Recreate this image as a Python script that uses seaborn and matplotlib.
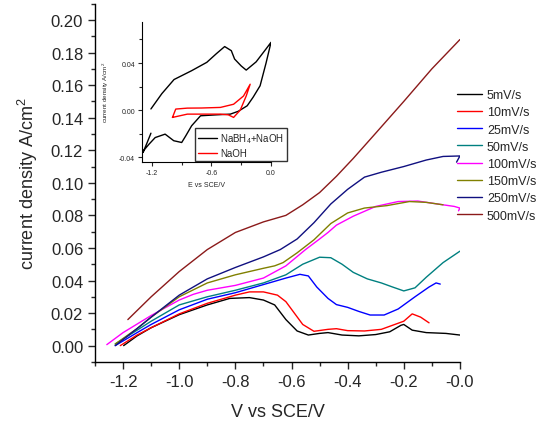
import numpy as np
import pandas as pd
import matplotlib.pyplot as plt
import seaborn as sns
from matplotlib.ticker import MultipleLocator

# scan rate curves (V vs SCE, current density A/cm2)
x_5 = [-1.198, -1.15, -1.10, -1.0, -0.9, -0.82, -0.75, -0.70, -0.66, -0.62, -0.58, -0.54, -0.50, -0.47,
       -0.42, -0.36, -0.30, -0.25, -0.21, -0.20, -0.17, -0.12, -0.05, 0.0]
y_5 = [0.0, 0.006, 0.011, 0.019, 0.025, 0.029, 0.0295, 0.028, 0.025, 0.016, 0.009, 0.0065, 0.0075, 0.008,
       0.0065, 0.006, 0.0068, 0.0085, 0.0125, 0.013, 0.0095, 0.008, 0.0075, 0.0065]
x_10 = [-1.21, -1.15, -1.1, -1.0, -0.9, -0.8, -0.75, -0.70, -0.65, -0.62, -0.59, -0.56, -0.52, -0.47,
        -0.44, -0.40, -0.34, -0.28, -0.24, -0.20, -0.17, -0.14, -0.11]
y_10 = [0.0, 0.0065, 0.011, 0.0195, 0.026, 0.031, 0.033, 0.033, 0.031, 0.027, 0.020, 0.013, 0.0088, 0.0100,
        0.0104, 0.0092, 0.0090, 0.0100, 0.0125, 0.0150, 0.0195, 0.0175, 0.014]
x_25 = [-1.228, -1.15, -1.1, -1.0, -0.9, -0.8, -0.7, -0.62, -0.57, -0.54, -0.51, -0.47, -0.44, -0.40,
        -0.36, -0.32, -0.27, -0.22, -0.16, -0.11, -0.085, -0.07]
y_25 = [0.0, 0.008, 0.013, 0.022, 0.0285, 0.0325, 0.0375, 0.0415, 0.0438, 0.0428, 0.036, 0.029, 0.0252,
        0.0235, 0.021, 0.0188, 0.0188, 0.0225, 0.030, 0.036, 0.0385, 0.0378]
x_50 = [-1.228, -1.15, -1.1, -1.0, -0.9, -0.8, -0.7, -0.62, -0.56, -0.50, -0.46, -0.42, -0.38, -0.33,
        -0.28, -0.24, -0.20, -0.16, -0.12, -0.06, 0.0]
y_50 = [0.001, 0.0095, 0.015, 0.025, 0.030, 0.034, 0.0385, 0.0435, 0.050, 0.0543, 0.054, 0.0500, 0.0450,
        0.041, 0.0385, 0.036, 0.0336, 0.0355, 0.042, 0.0510, 0.058]
x_100 = [-1.258, -1.2, -1.1, -1.0, -0.95, -0.9, -0.8, -0.7, -0.62, -0.55, -0.50, -0.47, -0.44, -0.38,
         -0.30, -0.22, -0.15, -0.08, -0.02, 0.0, -0.005]
y_100 = [0.0006, 0.008, 0.0185, 0.028, 0.0315, 0.034, 0.037, 0.0415, 0.049, 0.059, 0.0655, 0.0695, 0.0740,
         0.0795, 0.0855, 0.0885, 0.0888, 0.0870, 0.0855, 0.0845, 0.0828]
x_150 = [-1.228, -1.15, -1.1, -1.0, -0.9, -0.8, -0.7, -0.66, -0.63, -0.58, -0.52, -0.46, -0.40, -0.34,
         -0.26, -0.18, -0.12, -0.06]
y_150 = [0.001, 0.0105, 0.0175, 0.030, 0.0385, 0.0435, 0.0475, 0.049, 0.051, 0.057, 0.065, 0.075, 0.0815,
         0.0845, 0.086, 0.0885, 0.0880, 0.0865]
x_250 = [-1.228, -1.15, -1.1, -1.0, -0.9, -0.8, -0.7, -0.64, -0.58, -0.52, -0.46, -0.40, -0.34, -0.28,
         -0.20, -0.12, -0.06, 0.0, -0.012]
y_250 = [0.0, 0.0105, 0.0175, 0.031, 0.041, 0.048, 0.0545, 0.059, 0.0655, 0.0755, 0.087, 0.0960, 0.1035,
         0.1065, 0.110, 0.114, 0.1162, 0.1165, 0.1127]
x_500 = [-1.183, -1.1, -1.0, -0.9, -0.8, -0.7, -0.62, -0.56, -0.50, -0.44, -0.38, -0.30, -0.20, -0.10, 0.0]
y_500 = [0.016, 0.030, 0.0455, 0.059, 0.0695, 0.0760, 0.080, 0.0865, 0.094, 0.104, 0.115, 0.1305, 0.150,
         0.170, 0.188]

labels = ["5mV/s", "10mV/s", "25mV/s", "50mV/s", "100mV/s", "150mV/s", "250mV/s", "500mV/s"]
colors = ["black", "red", "blue", "#008080", "#ff00ff", "#808000", "#101080", "#8b1a1a"]

# inset CV loops
x_bh = [-1.21, -1.10, -0.977, -0.80, -0.647, -0.55, -0.467, -0.40, -0.367, -0.30, -0.25, -0.15, -0.05, 0.0,
        -0.05, -0.11, -0.18, -0.24, -0.33, -0.41, -0.55, -0.71, -0.80, -0.86, -0.90, -0.98, -1.067, -1.167,
        -1.23, -1.28, -1.29, -1.25, -1.21]
y_bh = [0.001, 0.014, 0.026, 0.0335, 0.0406, 0.048, 0.054, 0.0505, 0.0434, 0.0375, 0.034, 0.041, 0.052, 0.0576,
        0.040, 0.0207, 0.011, 0.0037, -0.001, -0.0034, -0.004, -0.0048, -0.0133, -0.022, -0.0275, -0.026,
        -0.0204, -0.0233, -0.029, -0.034, -0.036, -0.028, -0.0196]
x_oh = [-0.993, -0.96, -0.843, -0.70, -0.51, -0.377, -0.277, -0.21, -0.25, -0.31, -0.377, -0.43, -0.51,
        -0.70, -0.843, -0.993]
y_oh = [-0.0062, 0.0009, 0.0017, 0.0018, 0.0023, 0.005, 0.012, 0.022, 0.012, 0.000, -0.0062, -0.0040,
        -0.0034, -0.0034, -0.0034, -0.0062]

sns.set_style("white")
plt.rcParams['font.family'] = ['Liberation Sans', 'DejaVu Sans']
plt.rcParams['mathtext.fontset'] = 'custom'
plt.rcParams['mathtext.rm'] = 'Liberation Sans'

fig = plt.figure(figsize=(5.43, 4.31), dpi=100)
ax = fig.add_axes([0.175, 0.158, 0.672, 0.831])

series = [(x_5, y_5), (x_10, y_10), (x_25, y_25), (x_50, y_50), (x_100, y_100),
          (x_150, y_150), (x_250, y_250), (x_500, y_500)]
for (xs, ys), lab, col in zip(series, labels, colors):
    df = pd.DataFrame({"V": xs, "j": ys})
    sns.lineplot(data=df, x="V", y="j", sort=False, estimator=None, color=col, label=lab,
                 linewidth=1.0, ax=ax)

ax.set_xlim(-1.3, 0.0)
ax.set_ylim(-0.01, 0.21)
ax.xaxis.set_minor_locator(MultipleLocator(0.1))
ax.yaxis.set_minor_locator(MultipleLocator(0.01))
ax.set_xticks(np.arange(-1.2, 0.01, 0.2))
ax.set_xticklabels([f"{v:.1f}" for v in np.arange(-1.2, 0.01, 0.2)])
ax.set_yticks(np.arange(0.0, 0.201, 0.02))
ax.set_yticklabels([f"{v:.2f}" for v in np.arange(0.0, 0.201, 0.02)])
ax.tick_params(axis="both", which="major", direction="out", length=5, width=1, labelsize=12,
               left=True, bottom=True)
ax.tick_params(axis="both", which="minor", direction="out", length=3, width=1, left=True, bottom=True)
for s in ["top", "right"]:
    ax.spines[s].set_visible(False)
for s in ["left", "bottom"]:
    ax.spines[s].set_color("black")
    ax.spines[s].set_linewidth(1.0)
ax.set_xlabel("V vs SCE/V", fontsize=13, labelpad=10)
ax.set_ylabel("current density A/cm$^2$", fontsize=13, labelpad=8)
ax.legend(loc="upper left", bbox_to_anchor=(452 / 543, 1 - 85 / 431), bbox_transform=fig.transFigure,
          frameon=False, fontsize=9, handlelength=2.0, handletextpad=0.4, labelspacing=0.42,
          borderaxespad=0, borderpad=0.4)

# inset
ins = fig.add_axes([0.2615, 0.622, 0.2376, 0.325])
sns.lineplot(x=x_bh, y=y_bh, sort=False, estimator=None, color="black", linewidth=1.0,
             label="NaBH$_4$+NaOH", ax=ins)
sns.lineplot(x=x_oh, y=y_oh, sort=False, estimator=None, color="red", linewidth=1.0, label="NaOH", ax=ins)
ins.set_xlim(-1.3, 0.0)
ins.set_ylim(-0.044, 0.075)
ins.set_xticks([-1.2, -0.6, 0.0])
ins.set_xticklabels(["-1.2", "-0.6", "0.0"])
ins.xaxis.set_minor_locator(MultipleLocator(0.3))
ins.set_yticks([-0.04, 0.0, 0.04])
ins.set_yticklabels(["-0.04", "0.00", "0.04"])
ins.yaxis.set_minor_locator(MultipleLocator(0.02))
ins.tick_params(axis="both", which="major", direction="out", length=3, width=0.8, labelsize=5,
                left=True, bottom=True, pad=2)
ins.tick_params(axis="both", which="minor", direction="out", length=2, width=0.8, left=True, bottom=True)
for s in ["top", "right"]:
    ins.spines[s].set_visible(False)
for s in ["left", "bottom"]:
    ins.spines[s].set_color("black")
    ins.spines[s].set_linewidth(0.8)
ins.set_xlabel("E vs SCE/V", fontsize=5, labelpad=4)
ins.set_ylabel("current density A/cm$^2$", fontsize=4.5, labelpad=6)
leg = ins.legend(loc="lower left", bbox_to_anchor=(195 / 543, 1 - 162 / 431), bbox_transform=fig.transFigure,
                 frameon=True, fancybox=False, fontsize=7, handlelength=2.0, handletextpad=0.3,
                 labelspacing=0.3, borderpad=0.3, borderaxespad=0)
leg.get_frame().set_edgecolor("black")
leg.get_frame().set_linewidth(1.0)

fig.savefig("out.png", dpi=100)
